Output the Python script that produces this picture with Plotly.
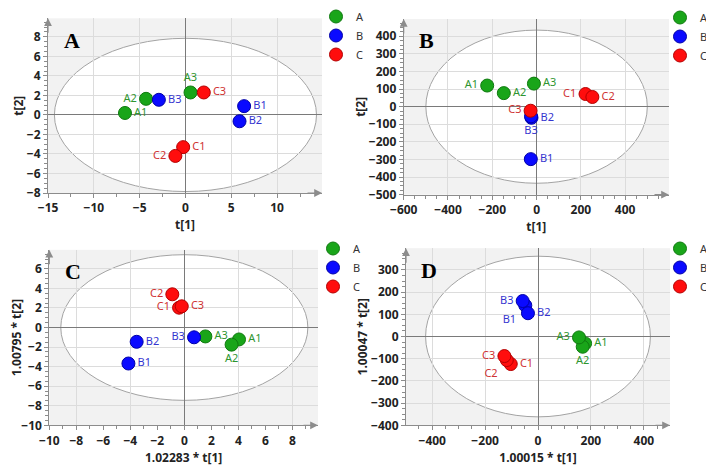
import plotly.graph_objects as go

# sample names / groups, in the order used by every score list below
samples = ["A1", "A2", "A3", "B1", "B2", "B3", "C1", "C2", "C3"]
groups = ["A", "B", "C"]

# panel A : t[1] vs t[2]
a_t1 = [-6.6, -4.3, 0.55, 6.4, 5.9, -2.9, -0.25, -1.1, 2.0]
a_t2 = [0.2, 1.65, 2.3, 0.9, -0.65, 1.55, -3.3, -4.2, 2.3]
# panel B : t[1] vs t[2]
b_t1 = [-223, -148, -12, -26, -23, -25, 221, 252, -27]
b_t2 = [120, 77, 131, -298, -63, -55, 72, 55, -23]
# panel C : 1.02283*t[1] vs 1.00795*t[2]
c_t1 = [4.05, 3.5, 1.56, -4.14, -3.53, 0.72, -0.39, -0.89, -0.19]
c_t2 = [-1.22, -1.75, -0.91, -3.68, -1.46, -1.0, 2.03, 3.4, 2.17]
# panel D : 1.00015*t[1] vs 1.00047*t[2]
d_t1 = [178, 169, 155, -48, -38, -58, -103, -118, -127]
d_t2 = [-31, -46, -4, 140, 105, 160, -124, -106, -88]

# Hotelling T2 ellipse half-axes (t1, t2)
a_ell = [14.3, 7.85]
b_ell = [500, 435]
c_ell = [9.15, 7.45]
d_ell = [425, 362]

MARK = {"A": "#19a519", "B": "#0a0aff", "C": "#ff0d0d"}
EDGE = {"A": "#0f7a0f", "B": "#0000a8", "C": "#b40000"}
TXT = {"A": "#2f952f", "B": "#3535cf", "C": "#cf3333"}
FONT = "Noto Sans"
GRID = "#dcdcdc"
AX = "#8c8c8c"

# page body has an 8px margin -> figure is drawn 8px in from the window corner
OFF = 8
W, H = 714 - OFF, 474 - OFF


def fx(px):
    return (px - OFF) / W


def fy(px):
    return 1 - (px - OFF) / H


# label side for each sample, per panel
pos_a = ["middle right", "middle left", "top center", "middle right", "middle right",
         "middle right", "middle right", "middle left", "middle right"]
pos_b = ["middle left", "middle right", "middle right", "middle right", "middle right",
         "bottom center", "middle left", "middle right", "middle left"]
pos_c = ["middle right", "bottom center", "middle right", "middle right", "middle right",
         "middle left", "middle left", "middle left", "middle right"]
pos_d = ["middle right", "bottom center", "middle left", "bottom left", "middle right",
         "middle left", "middle right", "bottom left", "middle left"]

panels = [
    dict(name="A", xs=a_t1, ys=a_t2, ell=a_ell, pos=pos_a, x="x", y="y", leg="legend",
         xdom=[fx(48), fx(322)], ydom=[fy(193), fy(18.3)],
         xr=[-15, 14.9], yr=[-8, 9.9], xd=5, xm=2.5, yd=2, ym=0.5,
         xt="t[1]", yt="t[2]", lx=316, ly=2),
    dict(name="B", xs=b_t1, ys=b_t2, ell=b_ell, pos=pos_b, x="x2", y="y2", leg="legend2",
         xdom=[fx(403.7), fx(669)], ydom=[fy(194.7), fy(19)],
         xr=[-600, 598], yr=[-500, 498], xd=200, xm=50, yd=100, ym=25,
         xt="t[1]", yt="t[2]", lx=660, ly=3),
    dict(name="C", xs=c_t1, ys=c_t2, ell=c_ell, pos=pos_c, x="x3", y="y3", leg="legend3",
         xdom=[fx(49.3), fx(318)], ydom=[fy(425.3), fy(249.8)],
         xr=[-10, 9.9], yr=[-10, 7.95], xd=2, xm=1, yd=2, ym=0.5,
         xt="1.02283 * t[1]", yt="1.00795 * t[2]", lx=313, ly=234),
    dict(name="D", xs=d_t1, ys=d_t2, ell=d_ell, pos=pos_d, x="x4", y="y4", leg="legend4",
         xdom=[fx(406), fx(670)], ydom=[fy(425.3), fy(248.2)],
         xr=[-499, 499], yr=[-400, 398], xd=200, xm=50, yd=100, ym=25,
         xt="1.00015 * t[1]", yt="1.00047 * t[2]", lx=660, ly=234),
]

fig = go.Figure()
layout = {}
shapes = []
annotations = []

for p in panels:
    for gi, g in enumerate(groups):
        sl = slice(gi * 3, gi * 3 + 3)
        fig.add_trace(go.Scatter(
            x=p["xs"][sl], y=p["ys"][sl], mode="markers+text", name=g,
            text=samples[sl], textposition=p["pos"][sl],
            textfont=dict(family=FONT, size=11, color=TXT[g]),
            marker=dict(size=13, color=MARK[g], line=dict(color=EDGE[g], width=1)),
            xaxis=p["x"], yaxis=p["y"], legend=p["leg"], cliponaxis=False,
        ))

    xk = "xaxis" + p["x"][1:]
    yk = "yaxis" + p["y"][1:]
    common = dict(showline=True, linecolor=AX, linewidth=1, ticks="outside", ticklen=4,
                  tickcolor=AX, tickmode="linear", tick0=0, showgrid=True,
                  gridcolor=GRID, gridwidth=1, zeroline=True, zerolinecolor="#7a7a7a",
                  zerolinewidth=1.3, fixedrange=True, automargin=False,
                  tickfont=dict(family=FONT, size=12, color="#222", weight="bold"))
    layout[xk] = dict(common, domain=p["xdom"], anchor=p["y"], range=p["xr"], dtick=p["xd"],
                      minor=dict(ticks="outside", ticklen=3, dtick=p["xm"], tickcolor=AX,
                                 showgrid=False),
                      title=dict(text=p["xt"], standoff=2,
                                 font=dict(family=FONT, size=12, color="#222", weight="bold")))
    layout[yk] = dict(common, domain=p["ydom"], anchor=p["x"], range=p["yr"], dtick=p["yd"],
                      minor=dict(ticks="outside", ticklen=3, dtick=p["ym"], tickcolor=AX,
                                 showgrid=False),
                      title=dict(text=p["yt"], standoff=0,
                                 font=dict(family=FONT, size=12, color="#222", weight="bold")))

    # white Hotelling ellipse (sits under the grid)
    shapes.append(dict(type="circle", xref=p["x"], yref=p["y"], layer="below",
                       x0=-p["ell"][0], x1=p["ell"][0], y0=-p["ell"][1], y1=p["ell"][1],
                       fillcolor="white", line=dict(color="#a3a3a3", width=1)))

    xd = p["x"] + " domain"
    yd = p["y"] + " domain"
    # axis arrows
    annotations.append(dict(xref=xd, yref=yd, x=0, y=1, ax=0, ay=16, text="",
                            showarrow=True, arrowhead=2, arrowsize=1.3, arrowwidth=1.2,
                            arrowcolor=AX))
    annotations.append(dict(xref=xd, yref=yd, x=1, y=0, ax=-16, ay=0, text="",
                            showarrow=True, arrowhead=2, arrowsize=1.3, arrowwidth=1.2,
                            arrowcolor=AX))
    # panel letter
    annotations.append(dict(xref=xd, yref=yd, x=0.05, y=0.875, xanchor="left",
                            yanchor="middle", showarrow=False, text="<b>%s</b>" % p["name"],
                            font=dict(family="Liberation Serif", size=22, color="black")))

    layout[p["leg"]] = dict(xanchor="left", yanchor="top", x=fx(p["lx"]), y=fy(p["ly"]),
                            bgcolor="rgba(0,0,0,0)", itemsizing="trace", tracegroupgap=0,
                            font=dict(family=FONT, size=11, color="#333"))

# panel C: labels every 2 but grid lines every 4 -> grid-only overlay axis
layout["xaxis5"] = dict(overlaying="x3", anchor="y3", range=panels[2]["xr"],
                        tickmode="linear", tick0=0, dtick=4, showgrid=True,
                        gridcolor=GRID, gridwidth=1, showticklabels=False, ticks="",
                        showline=False, zeroline=False, fixedrange=True, automargin=False)
layout["xaxis3"]["showgrid"] = False
fig.add_trace(go.Scatter(x=[], y=[], xaxis="x5", yaxis="y3", showlegend=False))

fig.update_layout(
    **layout,
    shapes=shapes,
    annotations=annotations,
    width=W, height=H, autosize=False,
    margin=dict(l=0, r=0, t=0, b=0, autoexpand=False),
    plot_bgcolor="#f2f2f2",
    paper_bgcolor="white",
    font=dict(family=FONT),
)
fig.write_html("out.html")
